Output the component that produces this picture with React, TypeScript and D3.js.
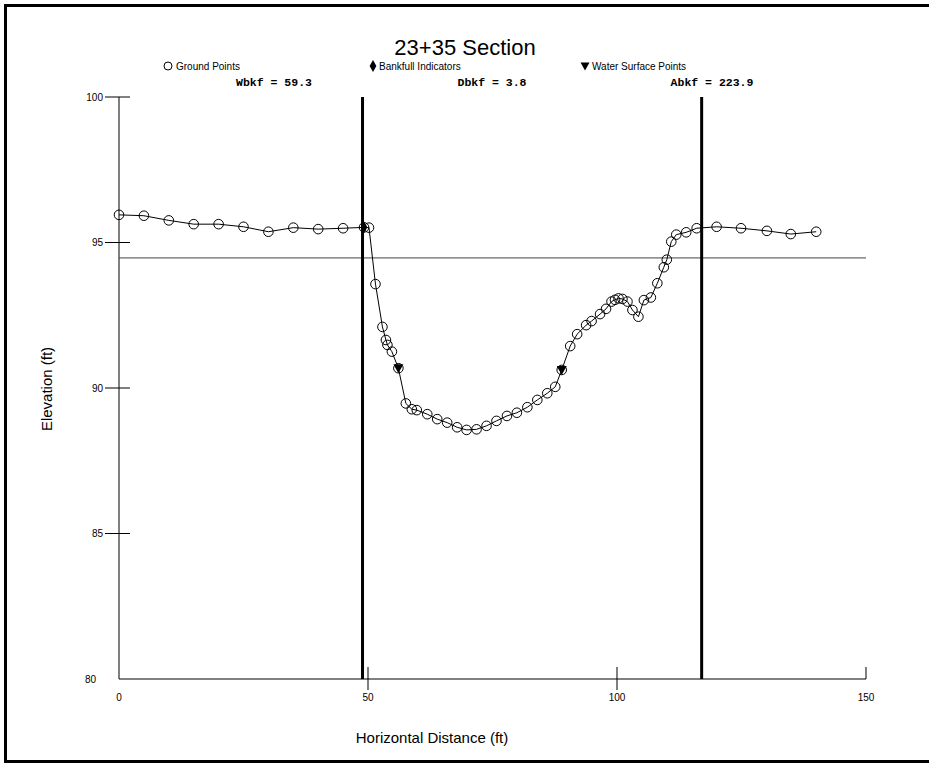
import React from "react";
import * as d3 from "d3";

const width = 929;
const height = 771;

// ground survey points (station ft, elevation ft)
const stations = [
  0, 5, 10, 15, 20, 25, 30, 35, 40, 45, 49.2, 50.2, 51.5, 52.9, 53.6, 53.9, 54.8, 56.1,
  57.6, 58.8, 59.8, 61.9, 63.9, 65.9, 67.9, 69.8, 71.8, 73.8, 75.8, 77.9, 79.9, 82.0,
  84.0, 86.0, 87.6, 88.9, 90.6, 92.0, 93.8, 94.9, 96.6, 97.8, 98.9, 99.6, 100.3, 101.1,
  102.1, 103.1, 104.3, 105.4, 106.8, 108.1, 109.4, 110.0, 110.9, 111.9, 113.9, 116.0,
  120.0, 124.9, 130.1, 134.9, 140.0
];
const elevations = [
  95.95, 95.92, 95.76, 95.63, 95.63, 95.54, 95.37, 95.51, 95.46, 95.49, 95.52, 95.51, 93.57,
  92.1, 91.65, 91.48, 91.25, 90.68, 89.47, 89.27, 89.24, 89.1, 88.93, 88.81, 88.65, 88.56,
  88.58, 88.7, 88.87, 89.04, 89.15, 89.34, 89.59, 89.82, 90.04, 90.62, 91.44, 91.85, 92.16,
  92.3, 92.54, 92.72, 92.97, 93.03, 93.08, 93.06, 92.97, 92.68, 92.45, 93.02, 93.11, 93.6,
  94.15, 94.41, 95.03, 95.27, 95.35, 95.49, 95.54, 95.49, 95.4, 95.29, 95.37
];

const bankfullStations = [49.2];
const bankfullElevations = [95.52];

const waterStations = [56.1, 88.9];
const waterElevations = [90.68, 90.62];

// bankfull extents and stage
const bankfullLines = [48.9, 117.0];
const bankfullStage = 94.47;

const xTicks = [0, 50, 100, 150];
const yTicks = [80, 85, 90, 95, 100];

const title = "23+35 Section";
const legendItems = ["Ground Points", "Bankfull Indicators", "Water Surface Points"];
const statLabels = ["Wbkf = 59.3", "Dbkf = 3.8", "Abkf = 223.9"];

const x = d3.scaleLinear().domain([0, 150]).range([119, 866]);
const y = d3.scaleLinear().domain([80, 100]).range([679, 97]);

const font = "'Liberation Sans', Arial, sans-serif";

export default function App() {
  const points = stations.map((s, i) => [s, elevations[i]] as [number, number]);
  const line = d3
    .line<[number, number]>()
    .x((d) => x(d[0]))
    .y((d) => y(d[1]));

  const diamond = d3.symbol().type(d3.symbolDiamond).size(40)();
  const tri = (cx: number, cy: number, s: number) =>
    `M${cx - s},${cy - s * 0.8}L${cx + s},${cy - s * 0.8}L${cx},${cy + s}Z`;

  return (
    <svg width={width} height={height} style={{ position: "absolute", left: 0, top: 0 }}>
      <rect x={0} y={0} width={width} height={height} fill="#fff" />
      <rect x={5.5} y={5.5} width={960} height={756} fill="none" stroke="#000" strokeWidth={3} />

      <text x={465} y={55} textAnchor="middle" fontFamily={font} fontSize={22}>
        {title}
      </text>

      {/* legend */}
      <g fontFamily={font} fontSize={10}>
        <circle cx={168} cy={66} r={4} fill="none" stroke="#000" />
        <text x={176} y={69.5}>{legendItems[0]}</text>
        <path d={diamond} transform="translate(373,66)" fill="#000" />
        <text x={379} y={69.5}>{legendItems[1]}</text>
        <path d={tri(585, 66, 4.5)} fill="#000" />
        <text x={592} y={69.5}>{legendItems[2]}</text>
      </g>

      <g fontFamily="'Liberation Mono', 'DejaVu Sans Mono', monospace" fontSize={11.5} fontWeight="bold">
        <text x={274} y={86} textAnchor="middle">{statLabels[0]}</text>
        <text x={492} y={86} textAnchor="middle">{statLabels[1]}</text>
        <text x={712} y={86} textAnchor="middle">{statLabels[2]}</text>
      </g>

      {/* axes */}
      <g stroke="#000" strokeWidth={1}>
        <line x1={x(0)} x2={x(0)} y1={y(100)} y2={y(80)} />
        <line x1={x(0)} x2={x(150)} y1={y(80)} y2={y(80)} />
        {yTicks
          .filter((t) => t > 80)
          .map((t) => (
            <line key={t} x1={x(0) - 14} x2={x(0) + 11} y1={y(t)} y2={y(t)} />
          ))}
        {xTicks
          .filter((t) => t > 0)
          .map((t) => (
            <line key={t} x1={x(t)} x2={x(t)} y1={y(80) - 12} y2={t === 150 ? y(80) : y(80) + 11} />
          ))}
      </g>
      <g fontFamily={font} fontSize={10}>
        {yTicks.map((t) => (
          <text key={t} x={t === 80 ? 96 : 103} y={y(t) + 3.5} textAnchor="end">
            {t}
          </text>
        ))}
        {xTicks.map((t) => (
          <text key={t} x={x(t)} y={701} textAnchor="middle">
            {t}
          </text>
        ))}
      </g>

      <text x={432} y={743} textAnchor="middle" fontFamily={font} fontSize={15}>
        Horizontal Distance (ft)
      </text>
      <text
        transform={`translate(52,389) rotate(-90)`}
        textAnchor="middle"
        fontFamily={font}
        fontSize={15}
      >
        Elevation (ft)
      </text>

      {/* bankfull stage and extents */}
      <line x1={x(0)} x2={x(150)} y1={y(bankfullStage)} y2={y(bankfullStage)} stroke="#444" strokeWidth={1} />
      {bankfullLines.map((b) => (
        <line key={b} x1={x(b)} x2={x(b)} y1={y(100)} y2={y(80)} stroke="#000" strokeWidth={3} />
      ))}

      {/* ground profile */}
      <path d={line(points) ?? ""} fill="none" stroke="#000" strokeWidth={1} />
      {points.map((p, i) => (
        <circle key={i} cx={x(p[0])} cy={y(p[1])} r={4.8} fill="none" stroke="#000" strokeWidth={1} />
      ))}
      {bankfullStations.map((s, i) => (
        <path key={i} d={diamond} transform={`translate(${x(s)},${y(bankfullElevations[i])})`} fill="#000" />
      ))}
      {waterStations.map((s, i) => (
        <path key={i} d={tri(x(s), y(waterElevations[i]), 5)} fill="#000" />
      ))}
    </svg>
  );
}
